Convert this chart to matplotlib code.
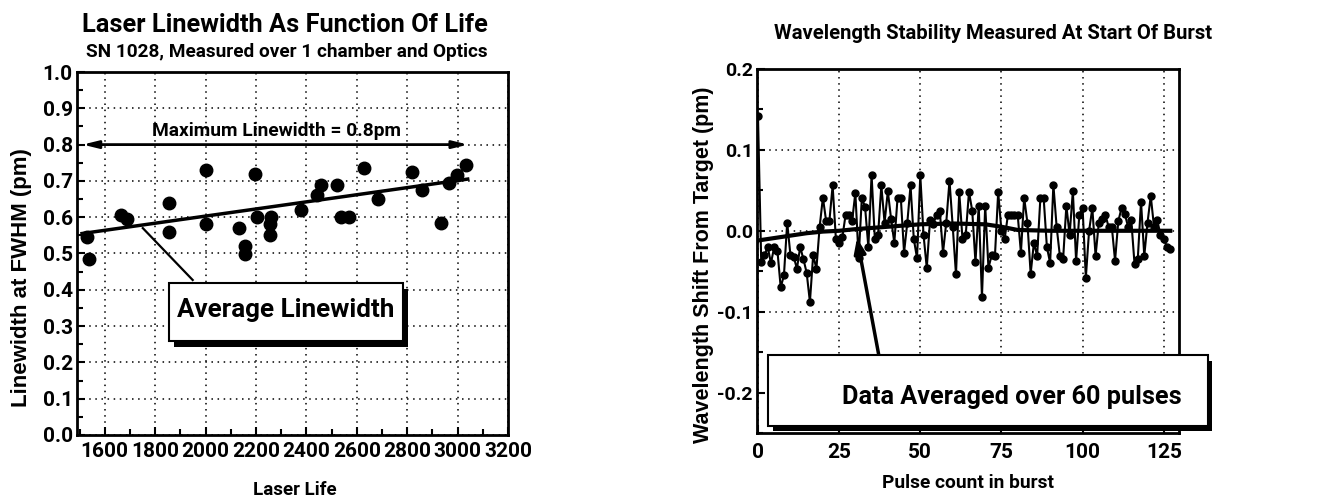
import matplotlib
matplotlib.use("Agg")
import matplotlib.pyplot as plt
from matplotlib.patches import Rectangle
from matplotlib.ticker import MultipleLocator, FormatStrFormatter

plt.rcParams['font.family'] = ['Roboto', 'Liberation Sans', 'DejaVu Sans']
plt.rcParams['font.weight'] = 'bold'
VERT = ['Liberation Sans', 'DejaVu Sans']

# ---- left panel: linewidth vs laser life
life = [1530, 1538, 1663, 1687, 1854, 1854, 2000, 2000, 2134, 2158, 2158,
        2195, 2206, 2261, 2257, 2257, 2380, 2444, 2457, 2523, 2539, 2569,
        2629, 2685, 2821, 2857, 2933, 2965, 2999, 3035]
linewidth = [0.545, 0.485, 0.605, 0.595, 0.64, 0.56, 0.73, 0.58, 0.57, 0.52, 0.50,
             0.72, 0.60, 0.60, 0.58, 0.55, 0.62, 0.66, 0.69, 0.69, 0.60, 0.60,
             0.735, 0.65, 0.725, 0.675, 0.585, 0.695, 0.715, 0.745]
avg_x = [1510, 3040]
avg_y = [0.555, 0.705]
max_lw = 0.8

# ---- right panel: wavelength shift per pulse
pulse = list(range(128))
shift = [0.142, -0.038, -0.030, -0.020, -0.040, -0.020, -0.025, -0.070, -0.055, 0.010,
         -0.030, -0.032, -0.047, -0.020, -0.035, -0.052, -0.088, -0.030, -0.047, 0.005,
         0.041, 0.012, 0.012, 0.056, -0.010, -0.015, -0.008, 0.020, 0.020, 0.012,
         0.047, -0.034, 0.041, 0.029, -0.020, 0.069, -0.010, -0.005, 0.056, 0.010,
         0.049, 0.015, -0.015, 0.041, 0.041, -0.027, 0.010, 0.056, -0.010, -0.034,
         0.069, -0.005, -0.046, 0.013, 0.008, 0.020, 0.025, -0.027, 0.010, 0.062,
         0.005, -0.054, 0.048, -0.010, -0.005, 0.048, 0.025, -0.039, 0.031, -0.082,
         0.031, -0.046, -0.030, -0.031, 0.048, 0.000, -0.010, 0.020, 0.020, 0.020,
         0.020, -0.027, 0.041, 0.010, -0.053, -0.015, -0.031, 0.041, 0.041, -0.020,
         -0.040, 0.057, 0.005, -0.031, -0.035, 0.031, -0.005, 0.049, -0.037, 0.020,
         0.028, -0.058, 0.000, 0.028, -0.031, 0.010, 0.015, 0.020, 0.005, 0.005,
         -0.037, 0.012, 0.028, 0.021, 0.005, 0.013, -0.041, -0.035, 0.036, -0.031,
         0.010, 0.043, 0.005, 0.013, -0.005, -0.010, -0.020, -0.022]
smooth_x = [0, 5, 10, 15, 20, 25, 30, 40, 50, 60, 70, 75, 80, 90, 100, 110, 120, 127]
smooth_y = [-0.012, -0.009, -0.006, -0.003, -0.001, 0.000, 0.002, 0.005, 0.008, 0.009,
            0.008, 0.005, 0.001, 0.000, 0.000, 0.000, 0.000, 0.000]

fig = plt.figure(figsize=(13.32, 5), dpi=100)
W, H = 1332, 500


def px_axes(x0, x1, ytop, ybot):
    return fig.add_axes([x0 / W, 1 - ybot / H, (x1 - x0) / W, (ybot - ytop) / H])


def style(ax):
    for s in ax.spines.values():
        s.set_linewidth(2)
    ax.tick_params(which='both', direction='in', top=False, right=False, width=1.5,
                   labelsize=15)
    ax.tick_params(which='major', length=6)
    ax.tick_params(which='minor', length=4)
    ax.grid(True, which='major', color='black', linestyle=(0, (1, 3)), linewidth=1.1)
    ax.set_axisbelow(True)


# left
ax1 = px_axes(77, 508, 72, 435)
style(ax1)
ax1.set_xlim(1490, 3200)
ax1.set_ylim(0, 1.0)
ax1.xaxis.set_major_locator(MultipleLocator(200))
ax1.xaxis.set_minor_locator(MultipleLocator(100))
ax1.yaxis.set_major_locator(MultipleLocator(0.1))
ax1.yaxis.set_minor_locator(MultipleLocator(0.05))
ax1.yaxis.set_major_formatter(FormatStrFormatter('%.1f'))
ax1.tick_params(axis='x', pad=5)
ax1.tick_params(axis='y', pad=3)
ax1.plot(avg_x, avg_y, color='black', lw=2.5, zorder=3)
ax1.plot(life, linewidth, 'o', color='black', ms=9, zorder=4)
ax1.annotate('', xy=(1512, max_lw), xytext=(3042, max_lw),
             arrowprops=dict(arrowstyle='<|-|>,head_length=0.9,head_width=0.22',
                             color='black', lw=2, shrinkA=0, shrinkB=0))
ax1.text(2283, 0.837, 'Maximum Linewidth = 0.8pm', ha='center', va='center', fontsize=13.8)
ax1.plot([1751, 1949], [0.57, 0.427], color='black', lw=1.6, zorder=3)
ax1.add_patch(Rectangle((1874, 0.242), 928, 0.16, facecolor='black', zorder=5))
ax1.add_patch(Rectangle((1854, 0.259), 928, 0.16, facecolor='white', edgecolor='black',
                        lw=1.5, zorder=6))
ax1.text(2318, 0.345, 'Average Linewidth', ha='center', va='center', fontsize=18.7, zorder=7)

fig.text(285 / W, 1 - 25 / H, 'Laser Linewidth As Function Of Life', ha='center',
         va='center', fontsize=18.3)
fig.text(287 / W, 1 - 52 / H, 'SN 1028, Measured over 1 chamber and Optics', ha='center',
         va='center', fontsize=13.7)
fig.text(295 / W, 1 - 490 / H, 'Laser Life', ha='center', va='center', fontsize=13.5)
fig.text(22 / W, 1 - 278 / H, 'Linewidth at FWHM (pm)', ha='center', va='center',
         rotation=90, fontsize=16, family=VERT)

# right
ax2 = px_axes(757, 1179, 69, 433)
style(ax2)
ax2.set_xlim(-0.3, 129.7)
ax2.set_ylim(-0.25, 0.2)
ax2.xaxis.set_major_locator(MultipleLocator(25))
ax2.yaxis.set_major_locator(MultipleLocator(0.1))
ax2.yaxis.set_minor_locator(MultipleLocator(0.05))
ax2.yaxis.set_major_formatter(FormatStrFormatter('%.1f'))
ax2.tick_params(axis='x', pad=7)
ax2.tick_params(axis='y', pad=3, labelsize=14)
ax2.plot(pulse, shift, '-o', color='black', lw=1.5, ms=5, zorder=3)
ax2.plot(smooth_x, smooth_y, color='black', lw=3, zorder=4)
ax2.annotate('', xy=(30.5, -0.009), xytext=(37.6, -0.162),
             arrowprops=dict(arrowstyle='-|>,head_length=0.9,head_width=0.35',
                             color='black', lw=2.5, shrinkA=0, shrinkB=0), zorder=5)
ax2.add_patch(Rectangle((4.6, -0.248), 135.4, 0.087, facecolor='black', zorder=5,
                        clip_on=False))
ax2.add_patch(Rectangle((3.1, -0.241), 135.4, 0.087, facecolor='white', edgecolor='black',
                        lw=1.5, zorder=6, clip_on=False))
ax2.text(78.2, -0.206, 'Data Averaged over 60 pulses', ha='center', va='center',
         fontsize=18.2, zorder=7)

fig.text(993 / W, 1 - 33 / H, 'Wavelength Stability Measured At Start Of Burst',
         ha='center', va='center', fontsize=14.6)
fig.text(968 / W, 1 - 483 / H, 'Pulse count in burst', ha='center', va='center', fontsize=13.8)
fig.text(703 / W, 1 - 265 / H, 'Wavelength Shift From Target (pm)', ha='center',
         va='center', rotation=90, fontsize=15.5, family=VERT)

fig.savefig('out.png', dpi=100)
